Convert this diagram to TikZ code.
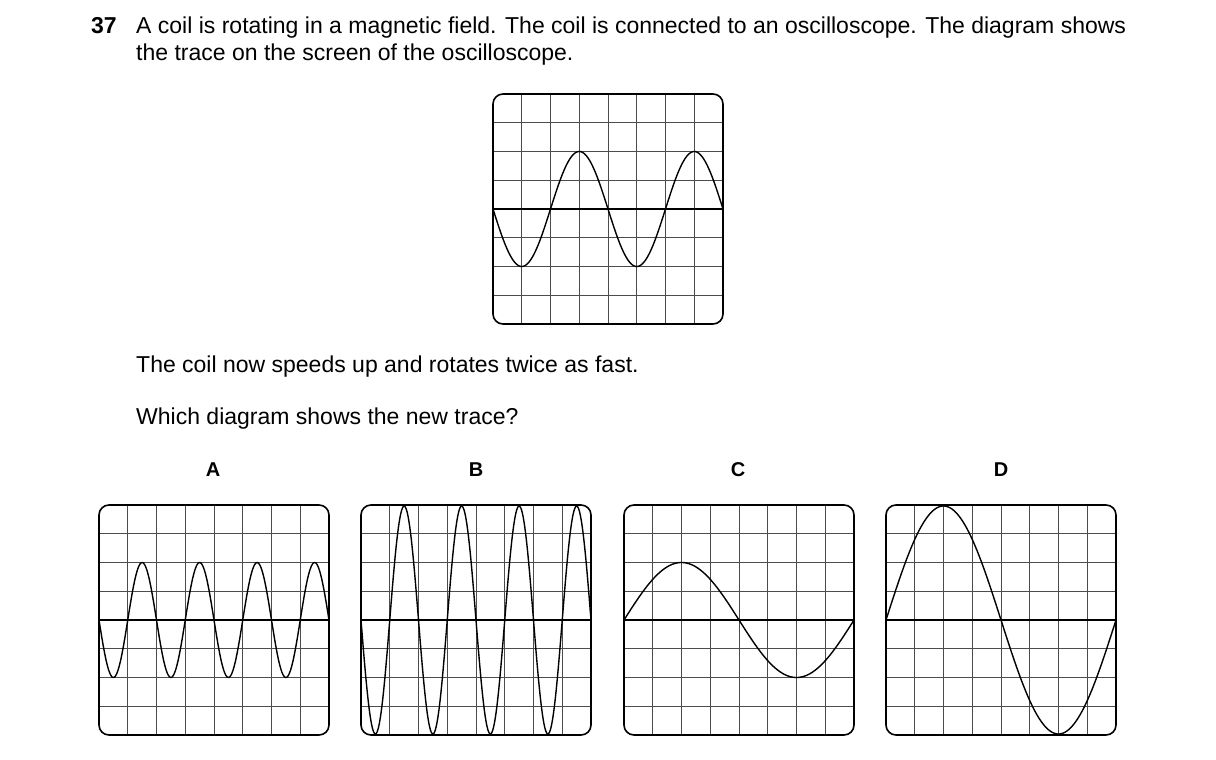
\documentclass[tikz,border=0pt]{standalone}
\usepackage{fontspec}
\setmainfont{Liberation Sans}
\begin{document}
\begin{tikzpicture}[x=1pt,y=-1pt,
  gridline/.style={line width=0.6pt,black!70},
  frame/.style={line width=1.6pt,rounded corners=10pt},
  axis/.style={line width=1.3pt},
  trace/.style={line width=1.4pt},
  txt/.style={anchor=base west,inner sep=0pt,font=\fontsize{23}{27}\selectfont},
  lab/.style={anchor=base,inner sep=0pt,font=\fontsize{20}{24}\selectfont\bfseries}]
\useasboundingbox (0,0) rectangle (1216,760);
\newcommand{\oscscreen}[4]{% x0, y0, amplitude (signed), period
  \begin{scope}[shift={(#1,#2)}]
    \foreach \i in {1,...,7}{
      \draw[gridline] (\i*28.75,0)--(\i*28.75,230);
      \draw[gridline] (0,\i*28.75)--(230,\i*28.75);}
    \draw[axis] (0,115)--(230,115);
    \draw[trace] plot[domain=0:230,samples=240,smooth] (\x,{115+(#3)*sin((\x/(#4))*360)});
    \draw[frame] (0,0) rectangle (230,230);
  \end{scope}}
\node[txt,font=\fontsize{23}{27}\selectfont\bfseries] (num) at (91,34) {37};
\node[txt] (l1) at (136,34) {A coil is rotating in a magnetic field. The coil is connected to an oscilloscope. The diagram shows};
\node[txt] (l2) at (136,60) {the trace on the screen of the oscilloscope.};
\oscscreen{493}{94}{57.5}{115}
\node[txt] (l3) at (136,372) {The coil now speeds up and rotates twice as fast.};
\node[txt] (l4) at (136,424) {Which diagram shows the new trace?};
\node[lab] (la) at (213,476) {A};
\node[lab] (lb) at (476,476) {B};
\node[lab] (lc) at (738,476) {C};
\node[lab] (ld) at (1001,476) {D};
\oscscreen{99}{505}{57.5}{57.5}
\oscscreen{361}{505}{114}{57.5}
\oscscreen{624}{505}{-57.5}{230}
\oscscreen{886}{505}{-114}{230}
\end{tikzpicture}
\end{document}
